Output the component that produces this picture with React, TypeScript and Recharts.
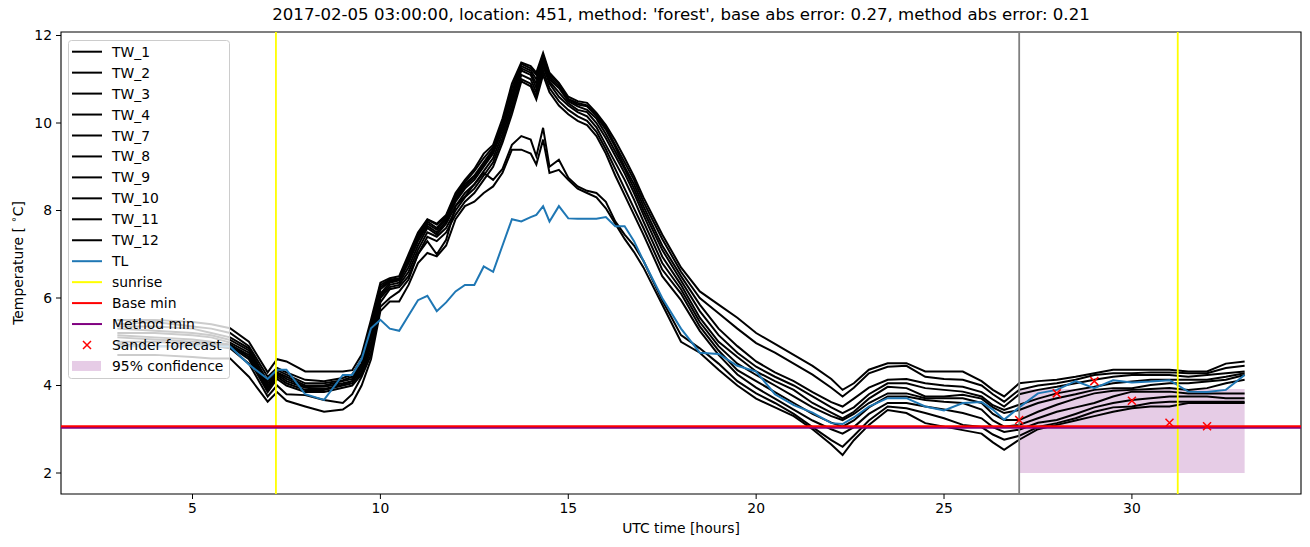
import React from 'react';
import {
  ComposedChart, Line, Scatter, XAxis, YAxis, ReferenceLine, ReferenceArea,
} from 'recharts';

// ---- data ----
const T = [3, 4, 5, 5.5, 6, 6.5, 7, 7.25, 7.5, 8, 8.5, 9, 9.25, 9.5, 9.75,
  10, 10.25, 10.5, 10.75, 11, 11.25, 11.5, 11.75, 12, 12.25, 12.5, 12.75, 13, 13.25, 13.5,
  13.75, 14, 14.15, 14.33, 14.5, 14.75, 15, 15.25, 15.5, 15.75, 16, 16.25, 16.5, 16.75, 17,
  17.5, 18, 18.5, 19, 19.5, 20, 20.5, 21, 21.5, 22, 22.3, 22.6, 23, 23.5, 24,
  24.5, 25, 25.5, 26, 26.3, 26.6, 27, 27.5, 28, 28.5, 29, 29.5, 30, 30.5, 31,
  31.5, 32, 32.5, 33];

const TW_1 = [5.5, 5.5, 5.45, 5.4, 5.31, 5.0, 4.3, 4.6, 4.55, 4.32, 4.32, 4.32, 4.35, 4.7, 5.5,
  6.35, 6.45, 6.5, 7.0, 7.5, 7.8, 7.7, 7.9, 8.4, 8.7, 8.95, 9.3, 9.5, 10.1, 10.9,
  11.38, 11.3, 11.15, 11.6, 11.15, 10.92, 10.6, 10.5, 10.46, 10.23, 9.95, 9.6, 9.2, 8.78, 8.3,
  7.45, 6.7, 6.15, 5.85, 5.55, 5.2, 4.95, 4.7, 4.45, 4.15, 3.9, 4.05, 4.36, 4.51, 4.51,
  4.32, 4.32, 4.32, 4.1, 3.9, 3.75, 4.05, 4.1, 4.13, 4.2, 4.28, 4.36, 4.36, 4.36, 4.36,
  4.32, 4.32, 4.5, 4.55];
const TW_2 = [5.4, 5.45, 5.35, 5.3, 5.2, 4.9, 4.2, 4.4, 4.3, 4.13, 4.1, 4.17, 4.25, 4.6, 5.4,
  6.3, 6.42, 6.45, 6.95, 7.45, 7.79, 7.68, 7.87, 8.35, 8.65, 8.9, 9.2, 9.45, 10.0, 10.8,
  11.35, 11.25, 11.1, 11.55, 11.1, 10.9, 10.55, 10.46, 10.4, 10.2, 9.9, 9.5, 9.1, 8.7, 8.2,
  7.35, 6.6, 6.0, 5.65, 5.3, 4.97, 4.75, 4.5, 4.25, 3.95, 3.75, 3.95, 4.28, 4.43, 4.45,
  4.2, 4.15, 4.13, 4.0, 3.8, 3.63, 3.9, 4.0, 4.05, 4.13, 4.24, 4.28, 4.28, 4.3, 4.3,
  4.28, 4.28, 4.4, 4.45];
const TW_3 = [5.35, 5.35, 5.3, 5.2, 5.1, 4.85, 4.1, 4.35, 4.25, 4.05, 4.05, 4.12, 4.2, 4.5, 5.3,
  6.25, 6.4, 6.42, 6.9, 7.4, 7.75, 7.6, 7.85, 8.3, 8.6, 8.8, 9.1, 9.4, 9.95, 10.7,
  11.3, 11.2, 11.0, 11.5, 11.05, 10.85, 10.54, 10.42, 10.38, 10.15, 9.85, 9.45, 9.0, 8.6, 8.1,
  7.2, 6.5, 5.85, 5.3, 4.9, 4.55, 4.3, 4.1, 3.85, 3.62, 3.52, 3.7, 3.95, 4.13, 4.15,
  4.05, 4.0, 3.97, 3.85, 3.68, 3.52, 3.8, 3.9, 3.97, 4.05, 4.13, 4.2, 4.24, 4.24, 4.24,
  4.2, 4.24, 4.28, 4.32];
const TW_4 = [5.3, 5.25, 5.2, 5.15, 5.04, 4.8, 4.05, 4.3, 4.2, 4.0, 4.0, 4.1, 4.15, 4.45, 5.2,
  6.2, 6.38, 6.42, 6.85, 7.35, 7.7, 7.56, 7.8, 8.25, 8.55, 8.75, 9.05, 9.35, 9.9, 10.6,
  11.25, 11.15, 10.9, 11.45, 11.0, 10.8, 10.5, 10.38, 10.3, 10.1, 9.75, 9.35, 8.95, 8.5, 8.0,
  7.1, 6.4, 5.7, 5.15, 4.75, 4.43, 4.2, 4.0, 3.75, 3.5, 3.37, 3.5, 3.8, 4.05, 4.05,
  3.94, 3.9, 3.86, 3.75, 3.55, 3.44, 3.56, 3.7, 3.82, 3.9, 3.97, 4.05, 4.09, 4.13, 4.13,
  4.13, 4.13, 4.2, 4.28];
const TW_7 = [5.2, 5.2, 5.15, 5.1, 4.98, 4.75, 4.0, 4.28, 4.15, 3.97, 3.97, 4.05, 4.1, 4.4, 5.1,
  6.1, 6.35, 6.4, 6.8, 7.3, 7.65, 7.5, 7.75, 8.2, 8.5, 8.7, 9.0, 9.3, 9.85, 10.5,
  11.2, 11.1, 10.8, 11.4, 10.95, 10.7, 10.45, 10.3, 10.25, 10.0, 9.65, 9.25, 8.85, 8.4, 7.9,
  6.95, 6.3, 5.55, 5.0, 4.65, 4.32, 4.1, 3.9, 3.6, 3.38, 3.25, 3.4, 3.7, 3.97, 3.94,
  3.75, 3.75, 3.79, 3.7, 3.5, 3.37, 3.44, 3.6, 3.71, 3.8, 3.9, 3.94, 3.94, 4.01, 4.05,
  4.05, 4.09, 4.13, 4.24];
const TW_8 = [5.15, 5.1, 5.05, 5.0, 4.93, 4.7, 3.95, 4.25, 4.1, 3.95, 3.92, 4.02, 4.1, 4.35, 5.0,
  6.05, 6.3, 6.35, 6.7, 7.2, 7.6, 7.45, 7.7, 8.1, 8.4, 8.6, 8.9, 9.2, 9.75, 10.4,
  11.1, 11.0, 10.7, 11.3, 10.9, 10.6, 10.4, 10.25, 10.15, 9.9, 9.5, 9.1, 8.7, 8.25, 7.75,
  6.8, 6.2, 5.45, 4.9, 4.5, 4.24, 4.0, 3.75, 3.5, 3.3, 3.21, 3.35, 3.6, 3.82, 3.82,
  3.71, 3.71, 3.71, 3.6, 3.35, 3.21, 3.21, 3.4, 3.56, 3.7, 3.82, 3.88, 3.9, 3.92, 3.94,
  3.9, 3.94, 4.05, 4.13];
const TW_9 = [5.1, 5.05, 5.0, 4.98, 4.93, 4.65, 3.9, 4.2, 4.05, 3.9, 3.9, 4.0, 4.05, 4.3, 4.9,
  6.0, 6.25, 6.3, 6.6, 7.1, 7.5, 7.4, 7.6, 8.0, 8.3, 8.5, 8.8, 9.1, 9.65, 10.3,
  11.0, 10.9, 10.6, 11.2, 10.8, 10.5, 10.3, 10.15, 10.05, 9.8, 9.4, 8.95, 8.5, 8.05, 7.6,
  6.65, 6.1, 5.35, 4.8, 4.35, 4.1, 3.85, 3.6, 3.35, 3.15, 3.06, 3.2, 3.5, 3.75, 3.75,
  3.67, 3.63, 3.6, 3.45, 3.2, 3.06, 3.1, 3.25, 3.4, 3.5, 3.6, 3.75, 3.86, 3.86, 3.86,
  3.82, 3.82, 3.82, 3.82];
const TW_10 = [5.0, 5.0, 4.95, 4.93, 4.9, 4.6, 3.85, 4.15, 4.0, 3.85, 3.85, 3.95, 4.0, 4.25, 4.8,
  5.9, 6.2, 6.25, 6.5, 7.0, 7.4, 7.3, 7.5, 7.9, 8.2, 8.4, 8.7, 9.0, 9.55, 10.2,
  10.95, 10.84, 10.54, 11.1, 10.7, 10.4, 10.2, 10.05, 9.95, 9.7, 9.3, 8.8, 8.35, 7.9, 7.45,
  6.5, 5.95, 5.25, 4.7, 4.25, 3.95, 3.7, 3.45, 3.2, 3.0, 2.9, 3.05, 3.35, 3.6, 3.6,
  3.52, 3.45, 3.37, 3.25, 3.05, 2.94, 2.99, 3.15, 3.21, 3.35, 3.5, 3.6, 3.67, 3.71, 3.75,
  3.75, 3.75, 3.71, 3.71];
const TW_11 = [4.95, 4.9, 4.9, 4.9, 4.85, 4.5, 3.75, 4.0, 3.8, 3.78, 3.67, 3.6, 3.8, 4.2, 4.7,
  5.8, 6.0, 6.15, 6.42, 7.0, 7.3, 7.0, 7.33, 8.1, 8.32, 8.6, 8.86, 8.7, 8.95, 9.5,
  9.7, 9.62, 9.24, 9.89, 9.0, 9.16, 8.75, 8.55, 8.45, 8.4, 8.2, 7.75, 7.45, 7.2, 6.85,
  5.95, 5.15, 4.85, 4.5, 4.1, 3.82, 3.6, 3.35, 3.05, 2.75, 2.6, 2.85, 3.2, 3.52, 3.48,
  3.37, 3.25, 3.1, 3.05, 2.88, 2.76, 2.85, 3.05, 3.14, 3.25, 3.4, 3.5, 3.52, 3.6, 3.63,
  3.63, 3.63, 3.63, 3.63];
const TW_12 = [4.7, 4.7, 4.65, 4.62, 4.62, 4.2, 3.63, 3.85, 3.65, 3.52, 3.4, 3.45, 3.6, 4.0, 4.6,
  5.7, 5.92, 5.92, 6.3, 6.8, 7.03, 6.95, 7.2, 7.8, 8.1, 8.2, 8.4, 8.55, 8.86, 9.39,
  9.39, 9.3, 9.05, 9.62, 8.86, 8.93, 8.7, 8.5, 8.4, 8.3, 8.05, 7.7, 7.35, 7.05, 6.7,
  5.85, 5.0, 4.75, 4.36, 4.0, 3.7, 3.5, 3.3, 3.0, 2.65, 2.41, 2.75, 3.1, 3.44, 3.37,
  3.14, 3.06, 2.98, 2.9, 2.7, 2.53, 2.76, 3.0, 3.1, 3.2, 3.3, 3.4, 3.48, 3.52, 3.52,
  3.6, 3.6, 3.6, 3.6];
const TL = [4.9, 4.9, 4.9, 4.9, 4.89, 4.48, 4.15, 4.36, 4.36, 3.8, 3.67, 4.24, 4.24, 4.6, 5.31,
  5.5, 5.3, 5.25, 5.6, 5.95, 6.05, 5.7, 5.9, 6.15, 6.3, 6.3, 6.72, 6.6, 7.2, 7.8,
  7.75, 7.85, 7.9, 8.1, 7.75, 8.1, 7.82, 7.81, 7.81, 7.81, 7.85, 7.64, 7.64, 7.3, 6.85,
  6.0, 5.3, 4.75, 4.72, 4.45, 4.32, 3.8, 3.55, 3.38, 3.14, 3.12, 3.27, 3.52, 3.71, 3.71,
  3.52, 3.43, 3.6, 3.62, 3.45, 3.22, 3.5, 3.82, 3.9, 4.1, 3.94, 4.12, 4.07, 4.09, 4.12,
  3.86, 3.85, 3.9, 4.24];

const TW_NAMES = ['TW_1', 'TW_2', 'TW_3', 'TW_4', 'TW_7', 'TW_8', 'TW_9', 'TW_10', 'TW_11', 'TW_12'];
const TW_VALUES = [TW_1, TW_2, TW_3, TW_4, TW_7, TW_8, TW_9, TW_10, TW_11, TW_12];

const SANDER_T = [27, 28, 29, 30, 31, 32];
const SANDER_V = [3.21, 3.82, 4.1, 3.65, 3.15, 3.07];

const SUNRISE = [7.22, 31.22];
const NOW_T = 27;
const BASE_MIN = 3.07;
const METHOD_MIN = 3.035;
const CONF = { t0: 27, t1: 33, lo: 2.0, hi: 3.92 };

const X_TICKS = [5, 10, 15, 20, 25, 30];
const Y_TICKS = [2, 4, 6, 8, 10, 12];
const X_DOMAIN = [1.5, 34.5];
const Y_DOMAIN = [1.52, 12.08];

const TITLE = "2017-02-05 03:00:00, location: 451, method: 'forest', base abs error: 0.27, method abs error: 0.21";

const data = T.map((t, i) => {
  const row: any = { t, TL: TL[i] };
  TW_NAMES.forEach((n, k) => { row[n] = TW_VALUES[k][i]; });
  return row;
});
const sander = SANDER_T.map((t, i) => ({ t, s: SANDER_V[i] }));

const FONT = 'DejaVu Sans, sans-serif';
const TL_COLOR = '#1f77b4';

const Cross = (props: any) => {
  const { cx, cy } = props;
  if (cx == null || cy == null) return null;
  const r = 4;
  return (
    <path d={`M${cx - r},${cy - r}L${cx + r},${cy + r}M${cx - r},${cy + r}L${cx + r},${cy - r}`}
      stroke="#ff0000" strokeWidth={1.5} fill="none" />
  );
};

const legendItems: { label: string; kind: string; color: string }[] = [
  ...TW_NAMES.map((n) => ({ label: n, kind: 'line', color: '#000' })),
  { label: 'TL', kind: 'line', color: TL_COLOR },
  { label: 'sunrise', kind: 'line', color: '#ffff00' },
  { label: 'Base min', kind: 'line', color: '#ff0000' },
  { label: 'Method min', kind: 'line', color: '#800080' },
  { label: 'Sander forecast', kind: 'x', color: '#ff0000' },
  { label: '95% confidence', kind: 'patch', color: '#800080' },
];

const Legend = () => (
  <svg width={164} height={342} style={{ position: 'absolute', left: 67, top: 39 }}>
    <rect x={1.5} y={1.5} width={161} height={338} rx={3} ry={3}
      fill="rgba(255,255,255,0.8)" stroke="#cccccc" strokeWidth={1} />
    {legendItems.map((it, i) => {
      const y = 12.7 + i * 20.95;
      return (
        <g key={it.label}>
          {it.kind === 'line' && (
            <line x1={5} x2={35} y1={y} y2={y} stroke={it.color} strokeWidth={2} />
          )}
          {it.kind === 'x' && (
            <path d={`M${16},${y - 4}L${24},${y + 4}M${16},${y + 4}L${24},${y - 4}`}
              stroke={it.color} strokeWidth={1.5} />
          )}
          {it.kind === 'patch' && (
            <rect x={5} y={y - 5} width={29} height={10} fill={it.color} fillOpacity={0.2} />
          )}
          <text x={45} y={y} dy="0.36em" fontSize={13.9} fontFamily={FONT} fill="#000">{it.label}</text>
        </g>
      );
    })}
  </svg>
);

export default function App() {
  return (
    <div style={{ position: 'absolute', left: 0, top: 0, width: 1310, height: 547, background: '#fff', fontFamily: FONT }}>
      <div style={{ position: 'absolute', left: 181, width: 1000, top: 5, textAlign: 'center', fontSize: 16.6, color: '#000', whiteSpace: 'nowrap' }}>
        {TITLE}
      </div>
      <ComposedChart width={1310} height={547} data={data}
        margin={{ top: 32, right: 9, bottom: 0, left: 11 }}>
        <ReferenceArea x1={CONF.t0} x2={CONF.t1} y1={CONF.lo} y2={CONF.hi}
          fill="#800080" fillOpacity={0.2} stroke="none" />
        <XAxis dataKey="t" type="number" domain={X_DOMAIN} ticks={X_TICKS} allowDataOverflow
          height={53} tickSize={5} tickMargin={4} axisLine={false}
          tickLine={{ stroke: '#000', strokeWidth: 1 }}
          tick={{ fill: '#000', fontSize: 13.9, fontFamily: FONT }} interval={0} />
        <YAxis type="number" domain={Y_DOMAIN} ticks={Y_TICKS} allowDataOverflow
          width={50} tickSize={5} tickMargin={4} axisLine={false}
          tickLine={{ stroke: '#000', strokeWidth: 1 }}
          tick={{ fill: '#000', fontSize: 13.9, fontFamily: FONT }} interval={0} />
        {TW_NAMES.map((n) => (
          <Line key={n} dataKey={n} type="linear" stroke="#000" strokeWidth={2}
            dot={false} isAnimationActive={false} />
        ))}
        <Line dataKey="TL" type="linear" stroke={TL_COLOR} strokeWidth={2}
          dot={false} isAnimationActive={false} />
        {SUNRISE.map((s) => (
          <ReferenceLine key={s} x={s} stroke="#ffff00" strokeWidth={1.8} />
        ))}
        <ReferenceLine x={NOW_T} stroke="#808080" strokeWidth={1.8} />
        <ReferenceLine y={METHOD_MIN} stroke="#800080" strokeWidth={2} />
        <ReferenceLine y={BASE_MIN} stroke="#ff0000" strokeWidth={2} />
        <Scatter data={sander} dataKey="s" shape={<Cross />} isAnimationActive={false} />
        <ReferenceArea x1={X_DOMAIN[0]} x2={X_DOMAIN[1]} y1={Y_DOMAIN[0]} y2={Y_DOMAIN[1]}
          fill="none" stroke="#000" strokeWidth={1.1} />
      </ComposedChart>
      <Legend />
      <div style={{ position: 'absolute', left: 581, width: 200, top: 520, textAlign: 'center', fontSize: 13.9, color: '#000' }}>
        UTC time [hours]
      </div>
      <div style={{ position: 'absolute', left: 18, top: 263, width: 0, height: 0 }}>
        <div style={{ position: 'absolute', transform: 'translate(-50%, -50%) rotate(-90deg)', whiteSpace: 'nowrap', fontSize: 13.9, color: '#000' }}>
          Temperature [ <sup style={{ fontSize: 10, verticalAlign: 'baseline', position: 'relative', top: -6 }}>∘</sup>C]
        </div>
      </div>
    </div>
  );
}
